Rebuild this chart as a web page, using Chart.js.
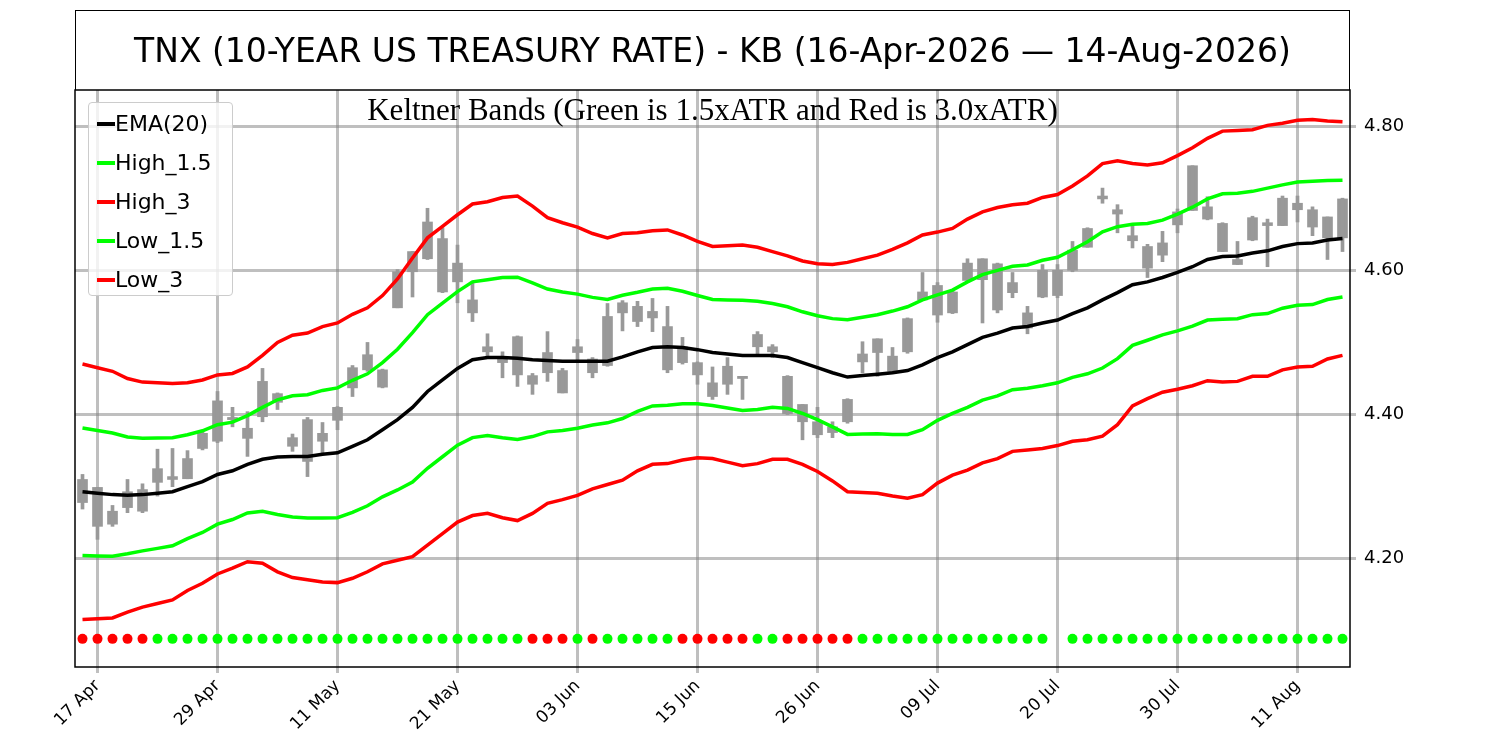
<!DOCTYPE html>
<html><head><meta charset="utf-8">
<script src="https://cdn.jsdelivr.net/npm/chart.js@4"></script>
<style>
body{margin:0;background:#fff;}
#wrap{position:relative;width:1500px;height:750px;}
#title{position:absolute;left:75px;top:10px;width:1273px;height:79px;border:1.5px solid #000;border-bottom:none;font-family:"DejaVu Sans";font-size:33px;display:flex;align-items:center;justify-content:center;}
#sub{position:absolute;left:75px;width:1275px;top:92px;text-align:center;font-family:"Liberation Serif","DejaVu Serif";font-size:31px;}
#legend{position:absolute;left:88px;top:102px;width:143px;height:192px;border:1.5px solid #ccc;border-radius:4px;background:rgba(255,255,255,0.8);font-family:"DejaVu Sans";font-size:22px;}
#legend div{height:37px;line-height:37px;position:relative;padding-left:26px;margin-top:2px;white-space:nowrap}
#legend span{position:absolute;left:8px;top:17px;width:18px;height:4px;}
</style></head><body>
<div id="wrap"><canvas id="c" width="1500" height="750"></canvas>
<div id="title">TNX (10-YEAR US TREASURY RATE) - KB (16-Apr-2026 — 14-Aug-2026)</div>
<div id="sub">Keltner Bands (Green is 1.5xATR and Red is 3.0xATR)</div>
<div id="legend"></div>
</div>
<script>
const tickIdx=[1,9,17,25,33,41,49,57,65,73,81];
const tickLabels=['17 Apr','29 Apr','11 May','21 May','03 Jun','15 Jun','26 Jun','09 Jul','20 Jul','30 Jul','11 Aug'];
const high=[4.317,4.299,4.274,4.310,4.304,4.352,4.353,4.350,4.376,4.432,4.410,4.404,4.464,4.430,4.373,4.396,4.389,4.411,4.468,4.500,4.463,4.601,4.626,4.686,4.659,4.635,4.584,4.512,4.487,4.509,4.457,4.515,4.464,4.504,4.479,4.554,4.558,4.557,4.561,4.550,4.507,4.473,4.466,4.479,4.453,4.515,4.497,4.454,4.414,4.410,4.390,4.422,4.501,4.505,4.493,4.534,4.597,4.583,4.572,4.616,4.616,4.610,4.597,4.550,4.608,4.608,4.640,4.659,4.714,4.691,4.664,4.636,4.654,4.685,4.745,4.702,4.666,4.640,4.675,4.671,4.703,4.703,4.688,4.674,4.700];
const bodyTop=[4.310,4.299,4.266,4.293,4.296,4.325,4.314,4.339,4.374,4.419,4.396,4.381,4.446,4.429,4.368,4.393,4.374,4.410,4.465,4.483,4.462,4.598,4.626,4.667,4.644,4.610,4.559,4.494,4.480,4.508,4.454,4.486,4.461,4.494,4.477,4.536,4.555,4.550,4.543,4.522,4.494,4.472,4.444,4.467,4.453,4.511,4.494,4.453,4.414,4.390,4.383,4.421,4.484,4.505,4.481,4.533,4.570,4.579,4.570,4.610,4.616,4.609,4.583,4.541,4.600,4.600,4.628,4.658,4.703,4.684,4.648,4.633,4.638,4.681,4.745,4.688,4.665,4.615,4.673,4.666,4.700,4.693,4.684,4.674,4.699];
const bodyBot=[4.278,4.245,4.248,4.271,4.266,4.306,4.310,4.311,4.353,4.363,4.393,4.367,4.397,4.417,4.356,4.335,4.363,4.392,4.437,4.462,4.438,4.548,4.598,4.616,4.570,4.584,4.541,4.487,4.472,4.455,4.442,4.458,4.430,4.486,4.458,4.468,4.541,4.529,4.534,4.462,4.472,4.455,4.425,4.442,4.450,4.494,4.487,4.401,4.390,4.372,4.375,4.390,4.473,4.486,4.460,4.487,4.559,4.538,4.541,4.586,4.587,4.545,4.569,4.520,4.563,4.565,4.600,4.632,4.699,4.678,4.641,4.603,4.621,4.663,4.683,4.671,4.626,4.608,4.642,4.662,4.662,4.684,4.660,4.645,4.645];
const low=[4.269,4.227,4.245,4.264,4.264,4.287,4.300,4.311,4.351,4.361,4.383,4.342,4.390,4.407,4.349,4.314,4.347,4.379,4.425,4.460,4.437,4.548,4.563,4.615,4.569,4.555,4.529,4.480,4.451,4.439,4.428,4.446,4.430,4.476,4.451,4.467,4.516,4.522,4.515,4.458,4.470,4.442,4.421,4.428,4.421,4.482,4.479,4.400,4.365,4.368,4.368,4.388,4.458,4.453,4.458,4.485,4.558,4.528,4.540,4.583,4.527,4.541,4.562,4.512,4.562,4.562,4.598,4.632,4.693,4.652,4.631,4.590,4.612,4.652,4.683,4.670,4.626,4.608,4.641,4.605,4.662,4.667,4.648,4.615,4.626];
const ema=[4.293,4.291,4.289,4.288,4.289,4.291,4.293,4.300,4.307,4.317,4.322,4.331,4.338,4.341,4.342,4.342,4.345,4.347,4.356,4.365,4.379,4.393,4.410,4.432,4.448,4.464,4.476,4.479,4.479,4.478,4.476,4.475,4.474,4.474,4.474,4.474,4.480,4.487,4.493,4.494,4.493,4.490,4.486,4.484,4.482,4.482,4.482,4.479,4.472,4.465,4.458,4.452,4.454,4.456,4.458,4.461,4.469,4.479,4.487,4.497,4.507,4.513,4.520,4.522,4.527,4.531,4.540,4.548,4.559,4.569,4.580,4.584,4.590,4.597,4.605,4.615,4.619,4.620,4.624,4.627,4.633,4.637,4.638,4.642,4.644];
const atr=[.059,.058,.057,.054,.052,.051,.050,.048,.047,.046,.045,.045,.048,.053,.056,.057,.059,.060,.061,.061,.062,.065,.069,.071,.071,.071,.072,.072,.074,.075,.071,.066,.064,.062,.059,.057,.057,.055,.054,.054,.052,.050,.049,.050,.051,.050,.048,.047,.047,.048,.050,.053,.054,.055,.057,.059,.060,.058,.057,.058,.058,.058,.057,.057,.058,.058,.059,.061,.063,.061,.056,.054,.053,.054,.055,.056,.058,.058,.057,.058,.057,.057,.057,.055,.054];
const dotColor=['r','r','r','r','r','g','g','g','g','g','g','g','g','g','g','g','g','g','g','g','g','g','g','g','g','g','g','g','g','g','r','r','r','g','r','g','g','g','g','g','r','r','r','r','r','g','g','r','r','r','r','r','g','g','g','g','g','g','g','g','g','g','g','g','g',null,'g','g','g','g','g','g','g','g','g','g','g','g','g','g','g','g','g','g','g'];
const dotLevel=4.089;

const idx=ema.map((_,i)=>i);
const band=k=>ema.map((e,i)=>({x:i,y:e+k*atr[i]}));
const G='#00ff00',R='#ff0000';
const lineDs=(label,data,color)=>({type:'line',label,data,borderColor:color,borderWidth:3.5,pointRadius:0,tension:0,order:1});
const dots=[];const dotCols=[];
dotColor.forEach((c,i)=>{if(c){dots.push({x:i,y:dotLevel});dotCols.push(c==='r'?R:G);}});
const frame={id:'frame',afterDraw(ch){const a=ch.chartArea,c=ch.ctx;c.save();c.strokeStyle='#000';c.lineWidth=1.5;c.strokeRect(a.left,a.top,a.right-a.left,a.bottom-a.top);c.restore();}};
new Chart(document.getElementById('c'),{
 data:{datasets:[
  {type:'bar',data:idx.map(i=>({x:i,y:[low[i],high[i]]})),backgroundColor:'#999999',barThickness:3,grouped:false,order:3},
  {type:'bar',data:idx.map(i=>({x:i,y:[bodyBot[i],Math.max(bodyTop[i],bodyBot[i]+0.002)]})),backgroundColor:'#999999',barThickness:10,grouped:false,order:3},
  lineDs('EMA(20)',idx.map(i=>({x:i,y:ema[i]})),'#000'),
  lineDs('High_1.5',band(1.5),G),
  lineDs('High_3',band(3),R),
  lineDs('Low_1.5',band(-1.5),G),
  lineDs('Low_3',band(-3),R),
  {type:'scatter',data:dots,pointBackgroundColor:dotCols,pointBorderWidth:0,pointRadius:5,order:2}
 ]},
 options:{responsive:false,animation:false,layout:{padding:{left:75,top:90,right:0,bottom:0}},
  plugins:{legend:{display:false},tooltip:{enabled:false}},
  scales:{
   x:{type:'linear',min:-0.5,max:84.5,offset:false,
     afterBuildTicks:s=>{s.ticks=tickIdx.map(v=>({value:v}));},
     afterFit:s=>{s.height=83;},
     ticks:{callback:(v)=>{const k=tickIdx.indexOf(v);return k>=0?tickLabels[k]:'';},minRotation:45,maxRotation:45,autoSkip:false,color:'#000',font:{family:'DejaVu Sans',size:17}},
     grid:{color:'rgba(128,128,128,0.5)',lineWidth:3,tickLength:6,offset:false},border:{display:false}},
   y:{position:'right',min:4.05,max:4.85,
     afterBuildTicks:s=>{s.ticks=[4.2,4.4,4.6,4.8].map(v=>({value:v}));},
     afterFit:s=>{s.width=150;},
     ticks:{callback:v=>v.toFixed(2),color:'#000',padding:8,font:{family:'DejaVu Sans',size:18}},
     grid:{color:'rgba(128,128,128,0.5)',lineWidth:3,tickLength:6},border:{display:false}}
  }},
 plugins:[frame]
});
const lg=document.getElementById('legend');
[['EMA(20)','#000'],['High_1.5',G],['High_3',R],['Low_1.5',G],['Low_3',R]].forEach(([t,c])=>{const d=document.createElement('div');d.innerHTML='<span style="background:'+c+'"></span>'+t;lg.appendChild(d);});
</script></body></html>
